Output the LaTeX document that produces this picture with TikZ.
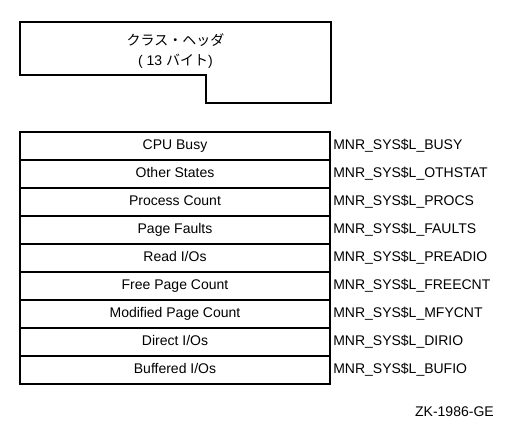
\documentclass[tikz,border=0pt]{standalone}
\usepackage{fontspec}
\setmainfont{Liberation Sans}
\newfontfamily\jpfont{Noto Sans CJK JP}
\usetikzlibrary{positioning}
\tikzset{
  field/.style={draw,line width=1.5pt,minimum width=232.5pt,minimum height=21pt,
    inner sep=0pt,outer sep=0pt,text height=7.6pt,text depth=2.2pt,
    font=\fontsize{10.5}{12}\selectfont},
  symname/.style={anchor=west,inner sep=0pt,text height=7.6pt,text depth=2.2pt,
    font=\fontsize{10.5}{12}\selectfont}
}
\begin{document}
\begin{tikzpicture}[x=0.75pt,y=-0.75pt]
  \useasboundingbox (0,0) rectangle (516,442);
  % class header
  \draw[line width=1.5pt] (20,22) -- (331,22) -- (331,103) -- (206,103) -- (206,75) -- (20,75) -- cycle;
  \node[align=center,inner sep=0pt,font=\fontsize{10.5}{15}\selectfont] (header) at (175.5,51)
    {{\jpfont クラス・ヘッダ}\\( 13 {\jpfont バイト})};
  % fields
  \foreach \fld/\sym [count=\i] in {CPU Busy/BUSY, Other States/OTHSTAT, Process Count/PROCS,
      Page Faults/FAULTS, {Read I/Os}/PREADIO, Free Page Count/FREECNT,
      Modified Page Count/MFYCNT, {Direct I/Os}/DIRIO, {Buffered I/Os}/BUFIO}{
    \node[field] (fld\i) at (175,{132+28*\i-14}) {\fld};
    \node[symname] (sym\i) at (333,{132+28*\i-14}) {MNR\_SYS\$L\_\sym};
  }
  \node[anchor=east,inner sep=0pt,font=\fontsize{10.5}{12}\selectfont] (fig) at (494,412) {ZK-1986-GE};
\end{tikzpicture}
\end{document}
